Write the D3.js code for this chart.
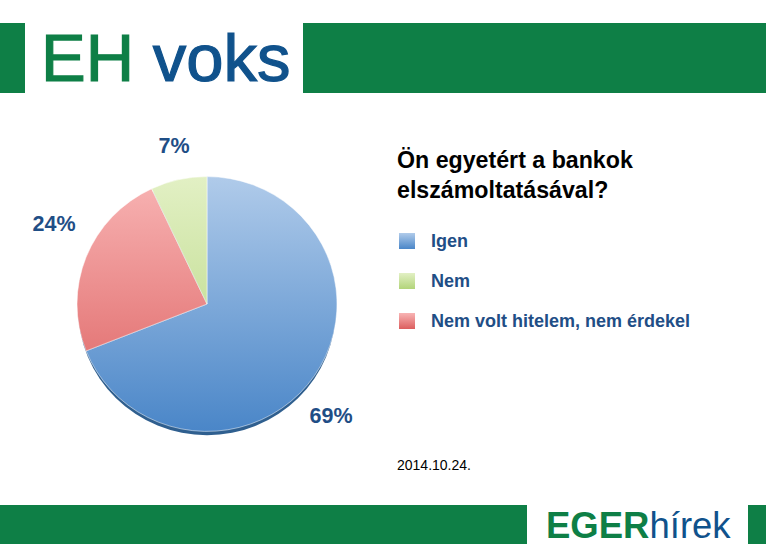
<!DOCTYPE html>
<html><head><meta charset="utf-8">
<script src="https://cdn.jsdelivr.net/npm/d3@7"></script>
<style>body{margin:0;background:#fff}svg{display:block;font-family:"Liberation Sans",Arial,sans-serif}</style>
</head><body>
<script>
const categories = ["Igen", "Nem", "Nem volt hitelem, nem érdekel"];
const values = [69, 7, 24];
const pieOrder = ["Igen", "Nem volt hitelem, nem érdekel", "Nem"];
const labels = ["69%", "7%", "24%"];
const colors = {
  "Igen": ["#b0cbea", "#4a86c8"],
  "Nem": ["#e2f0c4", "#b2d47a"],
  "Nem volt hitelem, nem érdekel": ["#f8b4b4", "#dc5e5e"]
};

const svg = d3.select("body").append("svg").attr("width", 766).attr("height", 544);
const green = "#0e7f46", blue = "#10528c";

// header
svg.append("rect").attr("x", 0).attr("y", 23).attr("width", 25).attr("height", 70).attr("fill", green);
svg.append("rect").attr("x", 303).attr("y", 23).attr("width", 463).attr("height", 70).attr("fill", green);
const h = svg.append("text").attr("x", 41).attr("y", 81).attr("font-size", 67).attr("stroke-width", 1.2);
h.append("tspan").attr("fill", green).attr("stroke", green).text("EH ");
h.append("tspan").attr("fill", blue).attr("stroke", blue).text("voks");

// footer
svg.append("rect").attr("x", 0).attr("y", 505).attr("width", 527).attr("height", 39).attr("fill", green);
svg.append("rect").attr("x", 748).attr("y", 505).attr("width", 18).attr("height", 39).attr("fill", green);
const f = svg.append("text").attr("x", 546).attr("y", 538).attr("font-size", 36.5);
f.append("tspan").attr("fill", green).attr("font-weight", "bold").text("EGER");
f.append("tspan").attr("fill", blue).text("hírek");

// gradients
const defs = svg.append("defs");
categories.forEach((c, i) => {
  const g = defs.append("linearGradient").attr("id", "g" + i)
    .attr("gradientUnits", "userSpaceOnUse").attr("x1", 0).attr("y1", -130).attr("x2", 0).attr("y2", 130);
  g.append("stop").attr("offset", 0).attr("stop-color", colors[c][0]);
  g.append("stop").attr("offset", 1).attr("stop-color", colors[c][1]);
  const l = defs.append("linearGradient").attr("id", "lg" + i).attr("x1", 0).attr("y1", 0).attr("x2", 0).attr("y2", 1);
  l.append("stop").attr("offset", 0).attr("stop-color", colors[c][0]);
  l.append("stop").attr("offset", 1).attr("stop-color", colors[c][1]);
});

const data = pieOrder.map(c => ({cat: c, value: values[categories.indexOf(c)], label: labels[categories.indexOf(c)]}));
const pie = d3.pie().sort(null).value(d => d.value);
const r = 130;
const arc = d3.arc().innerRadius(0).outerRadius(r);
const pg = svg.append("g").attr("transform", "translate(207,304) scale(1,0.98)");
pg.append("ellipse").attr("cx", 0).attr("cy", 4).attr("rx", r - 1).attr("ry", r).attr("fill", "#2f5f8f");
pg.selectAll("path").data(pie(data)).join("path")
  .attr("d", arc)
  .attr("fill", d => "url(#g" + categories.indexOf(d.data.cat) + ")")
  .attr("stroke", "#fff").attr("stroke-width", 0.5);

const labelPos = {"Igen": [331, 423], "Nem": [174, 153], "Nem volt hitelem, nem érdekel": [54, 231]};
svg.selectAll(".pl").data(data).join("text")
  .attr("x", d => labelPos[d.cat][0]).attr("y", d => labelPos[d.cat][1])
  .attr("text-anchor", "middle").attr("font-size", 21.5).attr("font-weight", "bold")
  .attr("fill", "#1f4e86").text(d => d.label);

// title
svg.append("text").attr("x", 397).attr("y", 168).attr("font-size", 23.2).attr("font-weight", "bold").text("Ön egyetért a bankok");
svg.append("text").attr("x", 397).attr("y", 198).attr("font-size", 23.2).attr("font-weight", "bold").text("elszámoltatásával?");

// legend
const y = d3.scalePoint().domain(categories).range([241, 321]);
const lg = svg.selectAll(".lg").data(categories).join("g").attr("transform", d => `translate(399,${y(d)})`);
lg.append("rect").attr("x", 0).attr("y", -8).attr("width", 16).attr("height", 16)
  .attr("fill", (d, i) => "url(#lg" + i + ")");
lg.append("text").attr("x", 32).attr("y", 6).attr("font-size", 18).attr("font-weight", "bold")
  .attr("fill", "#1f4e86").text(d => d);

svg.append("text").attr("x", 397).attr("y", 470).attr("font-size", 14).text("2014.10.24.");
</script>
</body></html>
